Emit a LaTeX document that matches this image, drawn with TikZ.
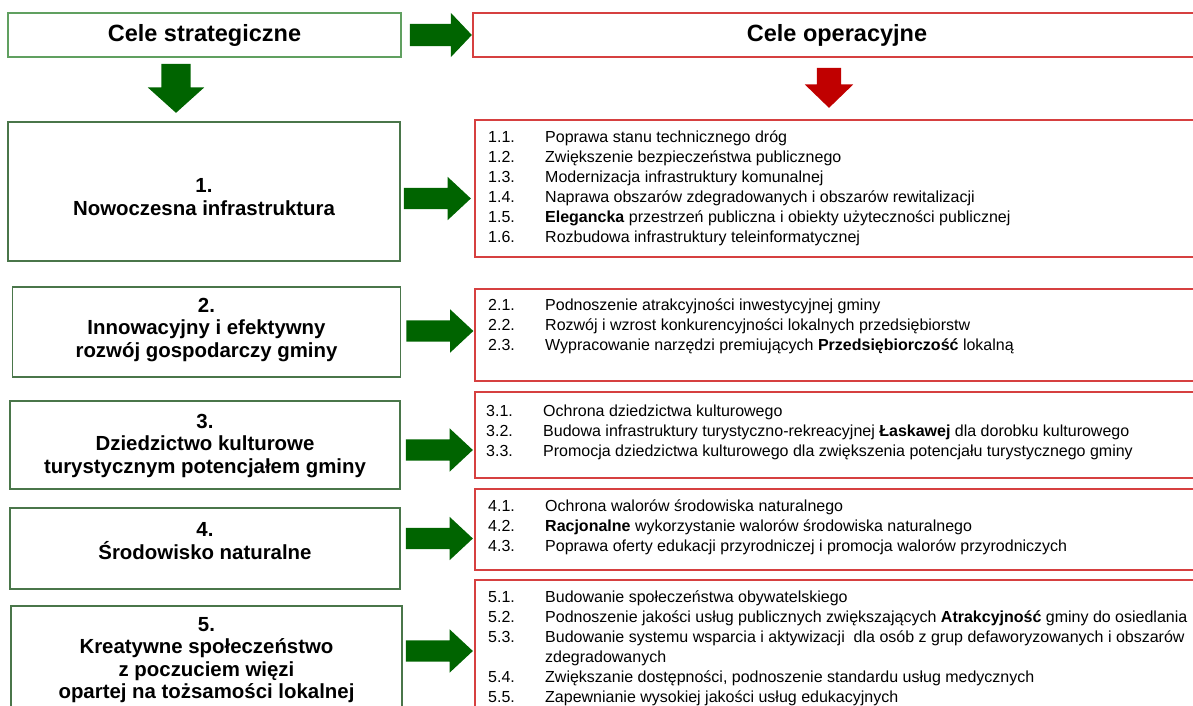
\documentclass[tikz,border=0pt]{standalone}
\usepackage{fontspec}
\setmainfont{Liberation Sans}
\usetikzlibrary{positioning,calc,shapes.arrows}

\definecolor{boxgreen}{RGB}{74,118,74}
\definecolor{headgreen}{RGB}{96,160,96}
\definecolor{boxred}{RGB}{214,64,64}
\definecolor{arrgreen}{RGB}{0,100,0}
\definecolor{arrred}{RGB}{192,0,0}

\newcommand{\itemrows}[1]{\begin{tabular}[t]{@{}p{57pt}@{}l@{}}#1\end{tabular}}

\begin{document}
\begin{tikzpicture}[x=1pt,y=-1pt,
	every node/.style={inner sep=0pt},
	headbox/.style={draw=#1,line width=1.3pt,minimum height=44,font=\fontsize{23.5}{27}\selectfont\bfseries},
	sbox/.style={draw=boxgreen,line width=1.3pt},
	obox/.style={draw=boxred,line width=1.3pt,minimum width=726},
	stext/.style={align=center,font=\fontsize{20.4}{22.5}\selectfont\bfseries},
	itemlist/.style={anchor=base west,font=\fontsize{16}{20}\selectfont},
	garrow/.style={single arrow,fill=arrgreen,anchor=tail,minimum height=67,inner ysep=10.5pt,
		single arrow head extend=11pt,single arrow tip angle=86},
	]
	\useasboundingbox (0,0) rectangle (1193,706);
	\clip (0,0) rectangle (1193,706);
	% headers
	\node[headbox=headgreen,minimum width=393] (hs) at (204.5,35) {Cele strategiczne};
	\node[headbox=boxred,minimum width=728] (ho) at (837,35) {Cele operacyjne};
	\node[garrow,minimum height=62,inner ysep=11pt,single arrow head extend=11pt,single arrow tip angle=93]
		(ah) at ($(hs.east)+(8,0)$) {};
	\node[single arrow,fill=arrgreen,anchor=tail,shape border rotate=270,minimum height=49,inner sep=14.5pt,
		single arrow head extend=13.5pt,single arrow tip angle=96] (ds) at ($(hs.south)+(-28.5,6)$) {};
	\node[single arrow,fill=arrred,anchor=tail,shape border rotate=270,minimum height=40,inner sep=12pt,
		single arrow head extend=12pt,single arrow tip angle=92] (do) at ($(ho.south)+(-8,10)$) {};
	% strategic goals
	\node[sbox,minimum width=392,minimum height=139] (s1) at (204,191.5) {};
	\node[sbox,minimum width=388,minimum height=90] (s2) at (206.5,332) {};
	\node[sbox,minimum width=390,minimum height=88] (s3) at (205,445) {};
	\node[sbox,minimum width=390,minimum height=81] (s4) at (205,548.5) {};
	\node[sbox,minimum width=391,minimum height=114] (s5) at (206.5,663) {};
	\node[stext] (t1) at (204,197) {1.\\Nowoczesna infrastruktura};
	\node[stext] (t2) at (206.5,330) {2.\\Innowacyjny i efektywny\\rozwój gospodarczy gminy};
	\node[stext] (t3) at (205,446) {3.\\Dziedzictwo kulturowe\\turystycznym potencjałem gminy};
	\node[stext] (t4) at (205,541) {4.\\Środowisko naturalne};
	\node[stext] (t5) at (206.5,660) {5.\\Kreatywne społeczeństwo\\z poczuciem więzi\\opartej na tożsamości lokalnej};
	% operational goals
	\node[obox,minimum height=137] (o1) at (838,188.5) {};
	\node[obox,minimum height=92] (o2) at (838,335) {};
	\node[obox,minimum height=86] (o3) at (838,435) {};
	\node[obox,minimum height=81] (o4) at (838,529.5) {};
	\node[obox,minimum height=140] (o5) at (838,650) {};
	\node[itemlist] (l1) at (488,142.5) {\itemrows{%
		1.1. & Poprawa stanu technicznego dróg\\
		1.2. & Zwiększenie bezpieczeństwa publicznego\\
		1.3. & Modernizacja infrastruktury komunalnej\\
		1.4. & Naprawa obszarów zdegradowanych i obszarów rewitalizacji\\
		1.5. & \textbf{Elegancka} przestrzeń publiczna i obiekty użyteczności publicznej\\
		1.6. & Rozbudowa infrastruktury teleinformatycznej}};
	\node[itemlist] (l2) at (488,310.5) {\itemrows{%
		2.1. & Podnoszenie atrakcyjności inwestycyjnej gminy\\
		2.2. & Rozwój i wzrost konkurencyjności lokalnych przedsiębiorstw\\
		2.3. & Wypracowanie narzędzi premiujących \textbf{Przedsiębiorczość} lokalną}};
	\node[itemlist] (l3) at (486,416.5) {\itemrows{%
		3.1. & Ochrona dziedzictwa kulturowego\\
		3.2. & Budowa infrastruktury turystyczno-rekreacyjnej \textbf{Łaskawej} dla dorobku kulturowego\\
		3.3. & Promocja dziedzictwa kulturowego dla zwiększenia potencjału turystycznego gminy}};
	\node[itemlist] (l4) at (488,511.5) {\itemrows{%
		4.1. & Ochrona walorów środowiska naturalnego\\
		4.2. & \textbf{Racjonalne} wykorzystanie walorów środowiska naturalnego\\
		4.3. & Poprawa oferty edukacji przyrodniczej i promocja walorów przyrodniczych}};
	\node[itemlist] (l5) at (488,602.5) {\itemrows{%
		5.1. & Budowanie społeczeństwa obywatelskiego\\
		5.2. & Podnoszenie jakości usług publicznych zwiększających \textbf{Atrakcyjność} gminy do osiedlania\\
		5.3. & Budowanie systemu wsparcia i aktywizacji\ \ dla osób z grup defaworyzowanych i obszarów\\
		     & zdegradowanych\\
		5.4. & Zwiększanie dostępności, podnoszenie standardu usług medycznych\\
		5.5. & Zapewnianie wysokiej jakości usług edukacyjnych}};
	% arrows between the columns
	\node[garrow] (a1) at ($(s1.east)+(3,7)$) {};
	\node[garrow] (a2) at ($(s2.east)+(5,-1)$) {};
	\node[garrow] (a3) at ($(s3.east)+(5,5)$) {};
	\node[garrow] (a4) at ($(s4.east)+(5,-10)$) {};
	\node[garrow] (a5) at ($(s5.east)+(3,-12)$) {};
\end{tikzpicture}
\end{document}
